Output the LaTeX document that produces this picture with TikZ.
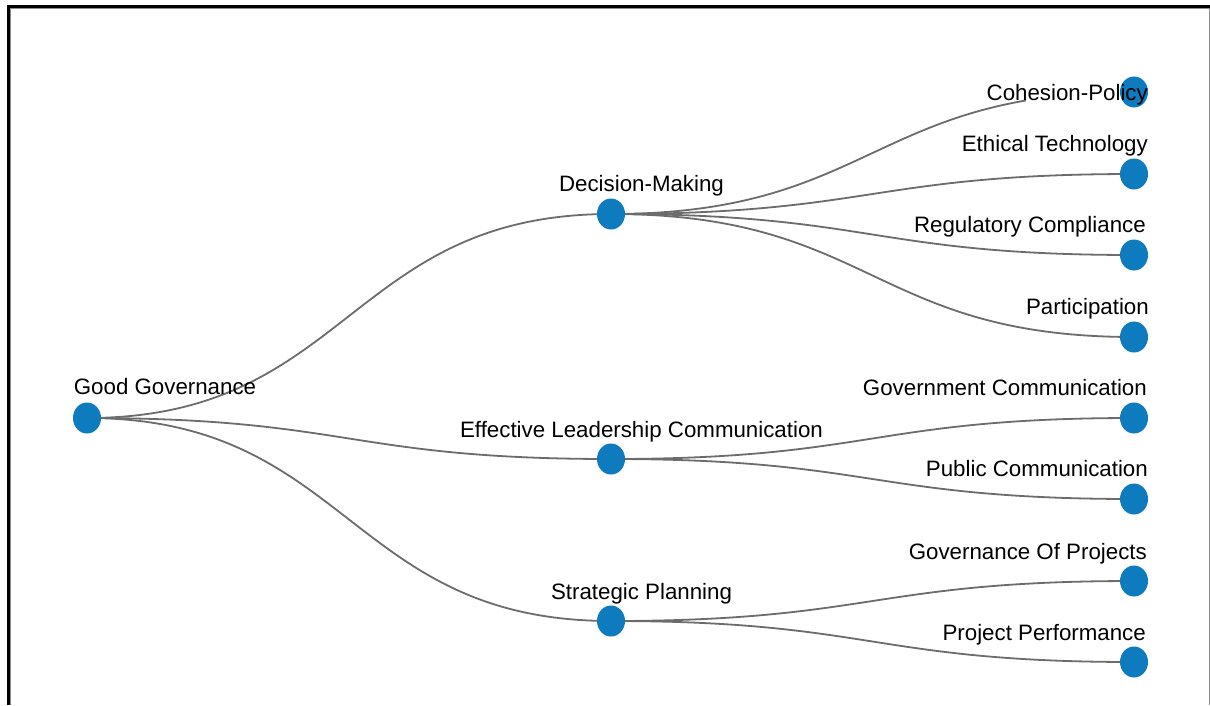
\documentclass[tikz,border=0pt]{standalone}
\usepackage{fontspec}
\setmainfont{Liberation Sans}
\usetikzlibrary{calc,shapes.geometric}
\definecolor{nodeblue}{RGB}{14,123,191}
\definecolor{linkgray}{RGB}{108,108,108}
\definecolor{framegray}{RGB}{140,140,140}
\begin{document}
\begin{tikzpicture}[x=1pt,y=-1pt,
  dot/.style={ellipse,fill=nodeblue,draw=none,minimum width=28pt,minimum height=31pt,inner sep=0pt},
  treelink/.style={draw=linkgray,line width=1.8pt,
    to path={let \p1=(\tikztostart), \p2=(\tikztotarget) in
      .. controls ({(\x1+\x2)/2},\y1) and ({(\x1+\x2)/2},\y2) .. (\tikztotarget)}},
  lbl/.style={inner sep=0pt,font=\fontsize{22.3}{26}\selectfont,text=black},
  leaflbl/.style={lbl,anchor=base east},
  midlbl/.style={lbl,anchor=base}]

\useasboundingbox (0,0) rectangle (1210,705);

% frame
\draw[framegray,line width=1pt] (10.5,705) -- (10.5,8.5) -- (1209,8.5) -- (1209,705);
\draw[black,line width=3pt] (8.5,705) -- (8.5,6.5) -- (1210,6.5);

% anchor points of the tree
\coordinate (gg) at (87,418);
\coordinate (dm) at (611,214);
\coordinate (el) at (611,459);
\coordinate (sp) at (611,621);
\coordinate (cp) at (1134,92);
\coordinate (et) at (1134,174);
\coordinate (rc) at (1134,255);
\coordinate (pa) at (1134,337);
\coordinate (gc) at (1134,418);
\coordinate (pc) at (1134,499);
\coordinate (gp) at (1134,581);
\coordinate (pp) at (1134,662);

% links
\foreach \a/\b in {gg/dm,gg/el,gg/sp,dm/et,dm/rc,dm/pa,el/gc,el/pc,sp/gp,sp/pp}
  \draw[treelink] (\a) to (\b);
% this link runs behind its label, so it stops where the text begins
\begin{scope}
  \clip (0,0) rectangle (1026,705);
  \draw[treelink] (dm) to (cp);
\end{scope}

% nodes
\foreach \n in {gg,dm,el,sp,cp,et,rc,pa,gc,pc,gp,pp}
  \node[dot] (\n-dot) at (\n) {};

% labels
\node[midlbl] (gg-l) at ($(gg)+(78,-24)$) {Good Governance};
\node[midlbl] (dm-l) at ($(dm)+(30.5,-23)$) {Decision-Making};
\node[midlbl] (el-l) at ($(el)+(30.5,-22)$) {Effective Leadership Communication};
\node[midlbl] (sp-l) at ($(sp)+(30.5,-22)$) {Strategic Planning};

\node[leaflbl] (cp-l) at ($(cp)+(14,8)$) {Cohesion-Policy};
\node[leaflbl] (et-l) at ($(et)+(14,-23)$) {Ethical Technology};
\node[leaflbl] (rc-l) at ($(rc)+(12,-23)$) {Regulatory Compliance};
\node[leaflbl] (pa-l) at ($(pa)+(15,-23)$) {Participation};
\node[leaflbl] (gc-l) at ($(gc)+(13,-23)$) {Government Communication};
\node[leaflbl] (pc-l) at ($(pc)+(14,-23)$) {Public Communication};
\node[leaflbl] (gp-l) at ($(gp)+(13,-22)$) {Governance Of Projects};
\node[leaflbl] (pp-l) at ($(pp)+(12,-22)$) {Project Performance};
\end{tikzpicture}
\end{document}
